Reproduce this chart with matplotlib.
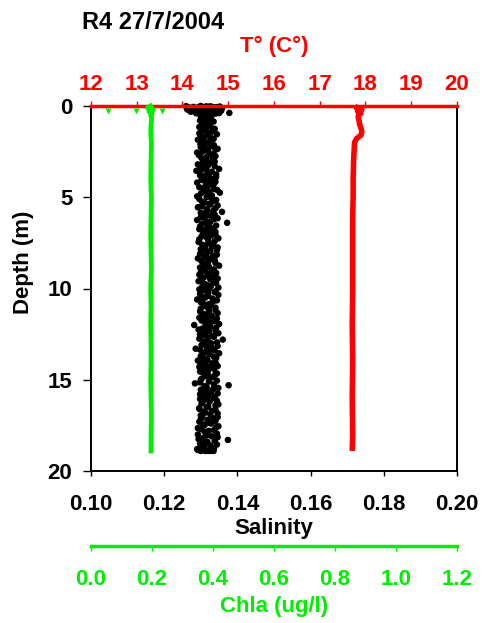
import matplotlib
matplotlib.use("Agg")
import matplotlib.pyplot as plt

plt.rcParams['font.family'] = ['Liberation Sans', 'DejaVu Sans']
plt.rcParams['font.weight'] = 'bold'

title = "R4 27/7/2004"

# Salinity profile (black dots), casts read in three groups
sal_depth = [0.00,0.02,0.04,0.05,0.06,0.08,0.10,0.12,0.14,0.15,0.16,0.18,0.20,0.22,0.24,0.25,0.26,0.28,0.30,0.32,0.34,0.36,0.38,0.40,0.42,0.45,0.48,
             0.5,0.6,0.7,0.8,0.9,
             1.0,1.1,1.2,1.3,1.4,1.5,1.6,1.7,1.8,1.9,
             2.0,2.1,2.2,2.3,2.4,2.5,2.6,2.7,2.8,2.9,
             3.0,3.1,3.2,3.3,3.4,3.5,3.6,3.7,3.8,3.9,
             4.0,4.1,4.2,4.3,4.4,4.5,4.6,4.7,4.8,4.9,
             5.0,5.1,5.2,5.3,5.4,5.5,5.6,5.7,5.8,5.9,
             6.0,6.1,6.2,6.3,6.4,6.5,6.6,6.7,6.8,6.9,
             7.0,7.1,7.2,7.3,7.4,7.5,7.6,7.7,7.8,7.9,
             8.0,8.1,8.2,8.3,8.4,8.5,8.6,8.7,8.8,8.9,
             9.0,9.1,9.2,9.3,9.4,9.5,9.6,9.7,9.8,9.9,
             10.0,10.1,10.2,10.3,10.4,10.5,10.6,10.7,10.8,10.9,
             11.0,11.1,11.2,11.3,11.4,11.5,11.6,11.7,11.8,11.9,
             12.0,12.1,12.2,12.3,12.4,12.5,12.6,12.7,12.8,12.9,
             13.0,13.1,13.2,13.3,13.4,13.5,13.6,13.7,13.8,13.9,
             14.0,14.1,14.2,14.3,14.4,14.5,14.6,14.7,14.8,14.9,
             15.0,15.1,15.2,15.3,15.4,15.5,15.6,15.7,15.8,15.9,
             16.0,16.1,16.2,16.3,16.4,16.5,16.6,16.7,16.8,16.9,
             17.0,17.1,17.2,17.3,17.4,17.5,17.6,17.7,17.8,17.9,
             18.0,18.1,18.2,18.3,18.4,18.5,18.6,18.7,18.8,18.9,
             18.85,18.9,18.9,18.9,18.9]
salinity = [0.1300,0.1315,0.1330,0.1280,0.1345,0.1265,0.1322,0.1290,0.1352,0.1308,0.1262,0.1338,0.1298,0.1356,0.1285,0.1318,0.1342,0.1275,0.1310,0.1348,0.1295,0.1330,0.1378,0.1288,0.1340,0.1302,0.1325,
            0.1312,0.1305,0.1322,0.1298,0.1318,
            0.1308,0.1326,0.1300,0.1315,0.1331,0.1296,0.1320,0.1310,0.1335,0.1302,
            0.1318,0.1299,0.1328,0.1312,0.1340,0.1305,0.1322,0.1295,0.1316,0.1333,
            0.1310,0.1326,0.1292,0.1338,0.1315,0.1302,0.1330,0.1320,0.1298,0.1342,
            0.1312,0.1328,0.1290,0.1335,0.1318,0.1305,0.1345,0.1322,0.1300,0.1330,
            0.1316,0.1296,0.1334,0.1310,0.1326,0.1302,0.1340,0.1318,0.1358,0.1308,
            0.1324,0.1300,0.1336,0.1314,0.1372,0.1320,0.1298,0.1332,0.1310,0.1340,
            0.1306,0.1328,0.1316,0.1296,0.1338,0.1322,0.1304,0.1330,0.1312,0.1344,
            0.1318,0.1298,0.1334,0.1310,0.1326,0.1302,0.1340,0.1314,0.1322,0.1306,
            0.1330,0.1300,0.1320,0.1336,0.1308,0.1326,0.1294,0.1342,0.1316,0.1304,
            0.1324,0.1310,0.1338,0.1298,0.1320,0.1312,0.1290,0.1334,0.1306,0.1328,
            0.1316,0.1300,0.1340,0.1322,0.1308,0.1330,0.1296,0.1318,0.1336,0.1312,
            0.1282,0.1326,0.1304,0.1340,0.1314,0.1298,0.1332,0.1320,0.1360,0.1308,
            0.1328,0.1302,0.1316,0.1286,0.1338,0.1310,0.1324,0.1300,0.1342,0.1318,
            0.1306,0.1330,0.1314,0.1296,0.1336,0.1320,0.1304,0.1340,0.1312,0.1326,
            0.1300,0.1322,0.1284,0.1376,0.1316,0.1334,0.1306,0.1328,0.1298,0.1320,
            0.1336,0.1310,0.1324,0.1302,0.1340,0.1316,0.1296,0.1330,0.1312,0.1326,
            0.1304,0.1334,0.1318,0.1296,0.1328,0.1310,0.1342,0.1300,0.1322,0.1314,
            0.1292,0.1330,0.1306,0.1374,0.1318,0.1298,0.1326,0.1310,0.1290,0.1320,
            0.1292,0.1300,0.1312,0.1326,0.1335]

sal_depth_b = [0.55,0.65,0.75,0.85,0.95,
               1.05,1.15,1.25,1.35,1.45,1.55,1.65,1.75,1.85,1.95,
               2.05,2.15,2.25,2.35,2.45,2.55,2.65,2.75,2.85,2.95,
               3.05,3.15,3.25,3.35,3.45,3.55,3.65,3.75,3.85,3.95,
               4.05,4.15,4.25,4.35,4.45,4.55,4.65,4.75,4.85,4.95,
               5.05,5.15,5.25,5.35,5.45,5.55,5.65,5.75,5.85,5.95,
               6.05,6.15,6.25,6.35,6.45,6.55,6.65,6.75,6.85,6.95,
               7.05,7.15,7.25,7.35,7.45,7.55,7.65,7.75,7.85,7.95,
               8.05,8.15,8.25,8.35,8.45,8.55,8.65,8.75,8.85,8.95,
               9.05,9.15,9.25,9.35,9.45,9.55,9.65,9.75,9.85,9.95,
               10.05,10.15,10.25,10.35,10.45,10.55,10.65,10.75,10.85,10.95,
               11.05,11.15,11.25,11.35,11.45,11.55,11.65,11.75,11.85,11.95,
               12.05,12.15,12.25,12.35,12.45,12.55,12.65,12.75,12.85,12.95,
               13.05,13.15,13.25,13.35,13.45,13.55,13.65,13.75,13.85,13.95,
               14.05,14.15,14.25,14.35,14.45,14.55,14.65,14.75,14.85,14.95,
               15.05,15.15,15.25,15.35,15.45,15.55,15.65,15.75,15.85,15.95,
               16.05,16.15,16.25,16.35,16.45,16.55,16.65,16.75,16.85,16.95,
               17.05,17.15,17.25,17.35,17.45,17.55,17.65,17.75,17.85,17.95,
               18.05,18.15,18.25,18.35,18.45,18.55,18.65,18.75,18.85,18.88]
salinity_b = [0.1300,0.1328,0.1310,0.1335,0.1304,
              0.1322,0.1296,0.1338,0.1306,0.1318,0.1344,0.1300,0.1328,0.1292,0.1324,
              0.1306,0.1336,0.1300,0.1346,0.1320,0.1290,0.1330,0.1340,0.1302,0.1314,
              0.1338,0.1304,0.1320,0.1300,0.1350,0.1288,0.1318,0.1342,0.1308,0.1326,
              0.1302,0.1340,0.1314,0.1322,0.1296,0.1336,0.1308,0.1352,0.1318,0.1290,
              0.1330,0.1342,0.1304,0.1324,0.1346,0.1292,0.1316,0.1334,0.1300,0.1338,
              0.1310,0.1346,0.1290,0.1326,0.1304,0.1342,0.1318,0.1296,0.1336,0.1322,
              0.1340,0.1302,0.1348,0.1320,0.1294,0.1334,0.1312,0.1346,0.1300,0.1326,
              0.1302,0.1344,0.1316,0.1292,0.1338,0.1320,0.1308,0.1350,0.1298,0.1336,
              0.1312,0.1342,0.1296,0.1324,0.1346,0.1302,0.1336,0.1310,0.1328,0.1348,
              0.1296,0.1340,0.1320,0.1348,0.1304,0.1332,0.1344,0.1300,0.1322,0.1310,
              0.1340,0.1322,0.1298,0.1346,0.1304,0.1314,0.1344,0.1302,0.1326,0.1350,
              0.1314,0.1342,0.1294,0.1322,0.1348,0.1306,0.1336,0.1296,0.1318,0.1344,
              0.1310,0.1346,0.1330,0.1298,0.1322,0.1350,0.1304,0.1336,0.1314,0.1292,
              0.1340,0.1300,0.1346,0.1324,0.1310,0.1298,0.1344,0.1320,0.1334,0.1302,
              0.1344,0.1298,0.1336,0.1310,0.1348,0.1300,0.1322,0.1346,0.1312,0.1338,
              0.1298,0.1344,0.1304,0.1348,0.1320,0.1296,0.1340,0.1308,0.1346,0.1300,
              0.1346,0.1300,0.1340,0.1322,0.1306,0.1348,0.1292,0.1336,0.1310,0.1344,
              0.1316,0.1346,0.1294,0.1338,0.1308,0.1344,0.1300,0.1336,0.1298,0.1330]

sal_depth_surface = [0.01,0.03,0.05,0.07,0.09,0.11,0.13,0.15,0.17,0.19,0.21,0.23,0.25,0.27,0.29,0.31,
                     0.33,0.35,0.37,0.39,0.41,0.43,0.46,0.49,0.02,0.06,0.10,0.14,0.18,0.22,0.26,0.30]
salinity_surface = [0.1260,0.1352,0.1295,0.1340,0.1270,0.1358,0.1312,0.1278,0.1348,0.1300,0.1265,0.1336,0.1290,0.1355,0.1306,0.1272,
                    0.1344,0.1285,0.1320,0.1350,0.1296,0.1330,0.1310,0.1318,0.1325,0.1310,0.1285,0.1330,0.1270,0.1320,0.1300,0.1340]

# Temperature profile (red)
temp_depth = [0.0,0.1,0.2,0.3,0.4,0.5,0.6,0.8,1.0,1.2,1.4,1.6,1.8,2.0,2.5,3.0,4.0,5.0,6.0,8.0,10.0,12.0,14.0,16.0,18.0,18.9]
temperature = [17.85,17.80,17.92,17.83,17.90,17.85,17.84,17.86,17.87,17.90,17.92,17.90,17.80,17.76,17.75,17.74,17.73,17.73,17.72,17.72,17.72,17.71,17.72,17.71,17.72,17.71]

# Chlorophyll profile (green)
chla_depth = [0.0,0.1,0.2,0.3,0.4,0.5,0.7,1.0,1.5,2.0,3.0,4.0,5.0,6.0,7.0,8.0,9.0,10.0,11.0,12.0,13.0,14.0,15.0,16.0,17.0,18.0,18.9]
chla = [0.195,0.185,0.205,0.190,0.200,0.196,0.199,0.197,0.196,0.198,0.197,0.196,0.198,0.197,0.196,0.197,0.198,0.196,0.197,0.196,0.197,0.197,0.196,0.197,0.198,0.197,0.197]
chla_extra_depth = [0.3,0.3,0.25]
chla_extra = [0.055,0.148,0.233]

sal_ticks = [0.10,0.12,0.14,0.16,0.18,0.20]
temp_ticks = [12,13,14,15,16,17,18,19,20]
chla_ticks = [0.0,0.2,0.4,0.6,0.8,1.0,1.2]
depth_ticks = [0,5,10,15,20]

RED = '#ff0000'
GREEN = '#00ee00'
FS = 16

fig = plt.figure(figsize=(4.85, 6.23), dpi=100)
W, H = 485, 623
L, R, T, B = 91, 457, 106, 471
ax = fig.add_axes([L / W, 1 - B / H, (R - L) / W, (B - T) / H])

for xs, ys in [(salinity, sal_depth), (salinity_b, sal_depth_b), (salinity_surface, sal_depth_surface)]:
    ax.scatter(xs, ys, s=22, c='black', edgecolors='none', zorder=3, clip_on=False)
ax.set_xlim(0.10, 0.20)
ax.set_ylim(20, 0)
ax.set_xticks(sal_ticks)
ax.set_xticklabels([f"{v:.2f}" for v in sal_ticks])
ax.set_yticks(depth_ticks)
ax.tick_params(axis='x', direction='out', length=3.6, width=1, pad=13, labelsize=FS, colors='black')
ax.tick_params(axis='y', direction='out', length=5.5, width=1, pad=8, labelsize=FS)
for s in ['left', 'right', 'bottom']:
    ax.spines[s].set_linewidth(1.4)
ax.spines['top'].set_visible(False)

# temperature axis on top
ax_t = ax.twiny()
ax_t.plot(temperature, temp_depth, color=RED, lw=4, solid_capstyle='butt', zorder=3, clip_on=False)
ax_t.set_xlim(12, 20)
ax_t.set_ylim(20, 0)
ax_t.set_xticks(temp_ticks)
ax_t.tick_params(axis='x', direction='out', length=3.6, width=1, pad=4, labelsize=FS, colors=RED)
for s in ['left', 'right', 'bottom']:
    ax_t.spines[s].set_visible(False)
ax_t.spines['top'].set_color(RED)
ax_t.spines['top'].set_linewidth(2.5)
ax_t.spines['top'].set_zorder(5)

# chla axis below
ax_c = ax.twiny()
ax_c.plot(chla, chla_depth, color=GREEN, lw=3.5, zorder=2, clip_on=False)
ax_c.plot(chla_extra, chla_extra_depth, 'v', color=GREEN, ms=4, mec='none', clip_on=False)
ax_c.set_xlim(0.0, 1.2)
ax_c.set_ylim(20, 0)
ax_c.xaxis.set_ticks_position('bottom')
ax_c.xaxis.set_label_position('bottom')
ax_c.spines['bottom'].set_position(('outward', 54))
ax_c.set_xticks(chla_ticks)
ax_c.set_xticklabels([f"{v:.1f}" for v in chla_ticks])
ax_c.tick_params(axis='x', direction='out', length=3.6, width=1, pad=13, labelsize=FS, colors=GREEN)
for s in ['left', 'right', 'top']:
    ax_c.spines[s].set_visible(False)
ax_c.spines['bottom'].set_color(GREEN)
ax_c.spines['bottom'].set_linewidth(2.5)
ax_c.patch.set_visible(False)
ax_t.patch.set_visible(False)

# labels
fig.text(82 / W, 1 - 29 / H, title, fontsize=17, fontweight='bold', ha='left', va='baseline')
fig.text(274 / W, 1 - 52 / H, "T° (C°)", fontsize=FS, fontweight='bold', color=RED, ha='center', va='baseline')
fig.text(274 / W, 1 - 534 / H, "Salinity", fontsize=FS, fontweight='bold', ha='center', va='baseline')
fig.text(274 / W, 1 - 612 / H, "Chla (ug/l)", fontsize=FS, fontweight='bold', color=GREEN, ha='center', va='baseline')
fig.text(24 / W, 1 - 262 / H, "Depth (m)", fontsize=FS, fontweight='bold', rotation=90, ha='center', va='center')

fig.savefig("out.png", dpi=100)
